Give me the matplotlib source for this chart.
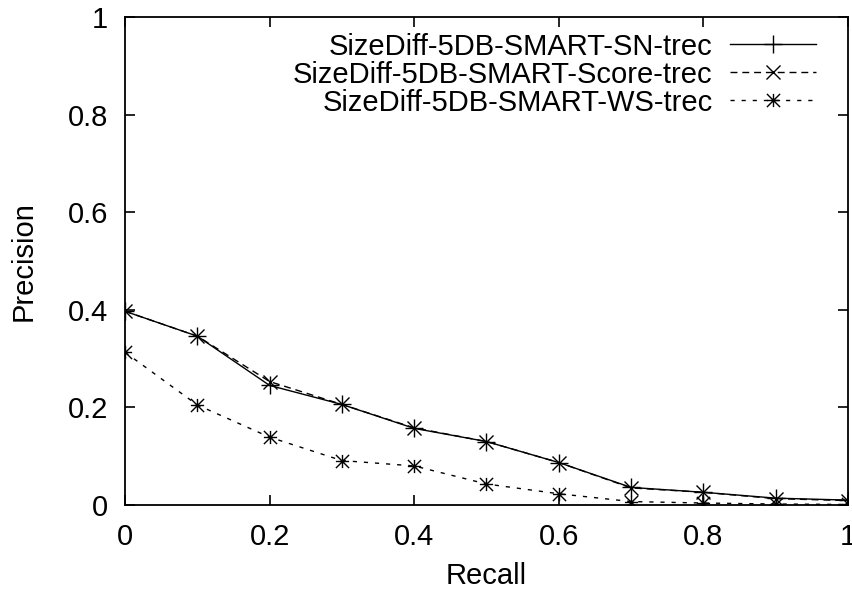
import matplotlib
matplotlib.use("Agg")
import matplotlib.pyplot as plt
from matplotlib.path import Path

plt.rcParams['font.family'] = ['Liberation Sans', 'DejaVu Sans']

recall = [0.0, 0.1, 0.2, 0.3, 0.4, 0.5, 0.6, 0.7, 0.8, 0.9, 1.0]
prec_sn = [0.397, 0.346, 0.245, 0.206, 0.157, 0.130, 0.087, 0.036, 0.026, 0.014, 0.010]
prec_score = [0.397, 0.346, 0.253, 0.206, 0.158, 0.130, 0.087, 0.035, 0.026, 0.013, 0.009]
prec_ws = [0.313, 0.205, 0.139, 0.091, 0.080, 0.043, 0.023, 0.007, 0.004, 0.002, 0.001]

labels = ["SizeDiff-5DB-SMART-SN-trec",
          "SizeDiff-5DB-SMART-Score-trec",
          "SizeDiff-5DB-SMART-WS-trec"]
xticks = [0, 0.2, 0.4, 0.6, 0.8, 1]
xtick_labels = ["0", "0.2", "0.4", "0.6", "0.8", "1"]
yticks = [0, 0.2, 0.4, 0.6, 0.8, 1]
ytick_labels = ["0", "0.2", "0.4", "0.6", "0.8", "1"]

FS = 21

# star marker: a plus with a diagonal cross on top
star = Path([(-1, 0), (1, 0), (0, -1), (0, 1),
             (-1, -1), (1, 1), (-1, 1), (1, -1)],
            [Path.MOVETO, Path.LINETO] * 4)

fig = plt.figure(figsize=(8.52, 5.90), dpi=100)
ax = fig.add_axes([0.1467, 0.1441, 0.8486, 0.8271])

ax.plot(recall, prec_sn, color='black', lw=1.0, ls='-',
        marker='+', ms=13, mew=1.0, label=labels[0])
ax.plot(recall, prec_score, color='black', lw=1.0, ls=(0, (5, 3.5)),
        marker='x', ms=9.5, mew=1.0, label=labels[1])
ax.plot(recall, prec_ws, color='black', lw=1.0, ls=(0, (3, 5)),
        marker=star, ms=9.5, mew=1.0, label=labels[2])

ax.set_xlim(0, 1)
ax.set_ylim(0, 1)
ax.set_xticks(xticks)
ax.set_xticklabels(xtick_labels)
ax.set_yticks(yticks)
ax.set_yticklabels(ytick_labels)
ax.tick_params(direction='in', length=7, width=1.2, labelsize=FS,
               top=True, right=True)
ax.tick_params(axis='x', pad=13)
ax.tick_params(axis='y', pad=12)
for sp in ax.spines.values():
    sp.set_linewidth(1.3)

ax.set_xlabel("Recall", fontsize=FS, labelpad=8)
ax.set_ylabel("Precision", fontsize=FS, labelpad=22)

leg = ax.legend(loc='upper right', bbox_to_anchor=(0.956, 0.968),
                frameon=False, markerfirst=False, numpoints=1,
                fontsize=FS, handlelength=2.95, handletextpad=0.6,
                labelspacing=0.0, borderpad=0, borderaxespad=0)

fig.savefig("out.png", dpi=100)
